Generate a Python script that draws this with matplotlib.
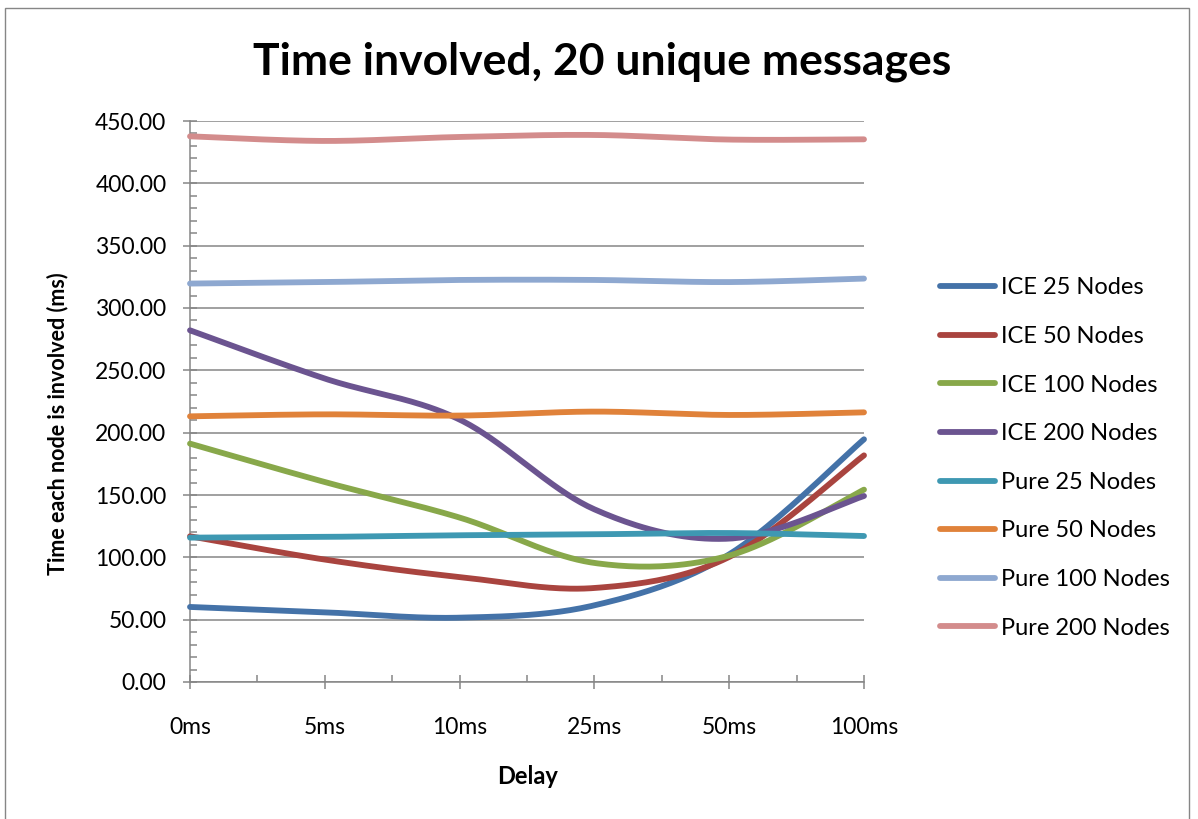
import numpy as np
import matplotlib
matplotlib.use("Agg")
import matplotlib.pyplot as plt
from matplotlib.patches import Rectangle
from matplotlib.ticker import MultipleLocator, FormatStrFormatter

plt.rcParams['font.family'] = ['Lato', 'DejaVu Sans']

delays = ["0ms", "5ms", "10ms", "25ms", "50ms", "100ms"]

ice_25 = [60.2, 55.9, 51.6, 61.5, 102.4, 194.7]
ice_50 = [116.9, 98.2, 84.2, 75.4, 100.3, 181.8]
ice_100 = [191.2, 160.4, 131.9, 95.5, 101.4, 154.3]
ice_200 = [282.1, 243.4, 210.5, 138.5, 115.0, 149.2]
pure_25 = [115.8, 116.4, 117.7, 118.5, 119.5, 117.1]
pure_50 = [213.1, 214.7, 213.7, 216.9, 214.2, 216.3]
pure_100 = [319.6, 320.8, 322.5, 322.5, 320.8, 323.6]
pure_200 = [437.7, 434.0, 437.2, 438.8, 435.1, 435.3]

series = [
    ("ICE 25 Nodes", ice_25, "#4472A8"),
    ("ICE 50 Nodes", ice_50, "#A9443F"),
    ("ICE 100 Nodes", ice_100, "#88A84A"),
    ("ICE 200 Nodes", ice_200, "#6B5490"),
    ("Pure 25 Nodes", pure_25, "#3E98B2"),
    ("Pure 50 Nodes", pure_50, "#E0823A"),
    ("Pure 100 Nodes", pure_100, "#8EA8D0"),
    ("Pure 200 Nodes", pure_200, "#D38C8C"),
]


def smooth(xs, ys, n=40):
    """Cubic Bezier smoothing through every point (spreadsheet-style)."""
    xs = np.asarray(xs, float)
    ys = np.asarray(ys, float)
    m = len(xs)
    px = np.concatenate([[xs[0]], xs, [xs[-1]]])
    py = np.concatenate([[ys[0]], ys, [ys[-1]]])
    out_x, out_y = [], []
    t = np.linspace(0, 1, n)
    for i in range(m - 1):
        p0 = np.array([px[i + 1], py[i + 1]])
        p3 = np.array([px[i + 2], py[i + 2]])
        p1 = p0 + (np.array([px[i + 2], py[i + 2]]) - np.array([px[i], py[i]])) / 6
        p2 = p3 - (np.array([px[i + 3], py[i + 3]]) - np.array([px[i + 1], py[i + 1]])) / 6
        b = ((1 - t) ** 3)[:, None] * p0 + (3 * (1 - t) ** 2 * t)[:, None] * p1 \
            + (3 * (1 - t) * t ** 2)[:, None] * p2 + (t ** 3)[:, None] * p3
        if i > 0:
            b = b[1:]
        out_x.append(b[:, 0])
        out_y.append(b[:, 1])
    return np.concatenate(out_x), np.concatenate(out_y)


W, H = 1198, 819
fig = plt.figure(figsize=(W / 100, H / 100), dpi=100)
fig.patch.set_facecolor("white")

# outer chart frame
fig.patches.append(Rectangle((5 / W, -0.02), (1189 - 5) / W, 1.02 - 8 / H,
                             transform=fig.transFigure, fill=False,
                             edgecolor="#868686", linewidth=1.0))

ax = fig.add_axes([190 / W, 1 - 682 / H, (864 - 190) / W, (682 - 121) / H])

grey = "#868686"
x = np.arange(len(delays))
for name, vals, color in series:
    sx, sy = smooth(x, vals)
    ax.plot(sx, sy, color=color, lw=4.2, solid_capstyle="round", label=name,
            clip_on=False, zorder=3)

ax.set_xlim(0, len(delays) - 1)
ax.set_ylim(0, 450)
ax.yaxis.set_major_locator(MultipleLocator(50))
ax.yaxis.set_minor_locator(MultipleLocator(10))
ax.yaxis.set_major_formatter(FormatStrFormatter("%.2f"))
ax.set_xticks(x)
ax.set_xticklabels(delays)
ax.set_xticks(np.arange(0.5, len(delays) - 1, 1.0), minor=True)

ax.grid(axis="y", which="major", color=grey, lw=1.1, zorder=1)
for s in ("top", "right"):
    ax.spines[s].set_visible(False)
for s in ("left", "bottom"):
    ax.spines[s].set_color(grey)
    ax.spines[s].set_linewidth(1.1)

ax.tick_params(axis="both", which="major", direction="inout", length=10,
               width=1.1, color=grey, labelsize=16.5, labelcolor="black")
ax.tick_params(axis="both", which="minor", direction="in", length=5,
               width=1.1, color=grey)
ax.tick_params(axis="y", which="major", pad=12)
ax.tick_params(axis="x", which="major", pad=20)

fig.text(602 / W, 1 - 62 / H, "Time involved, 20 unique messages",
         ha="center", va="center", fontsize=32, fontweight="bold")
fig.text(528 / W, 1 - 777 / H, "Delay", ha="center", va="center",
         fontsize=17, fontweight="bold")
fig.text(58 / W, 1 - 424 / H, "Time each node is involved (ms)", ha="center",
         va="center", rotation=90, fontsize=15.5, fontweight="bold")

ax.legend(loc="center left", bbox_to_anchor=(940 / W, 1 - 458 / H),
          bbox_transform=fig.transFigure, frameon=False, fontsize=17,
          handlelength=2.35, handletextpad=0.25, labelspacing=1.17,
          borderpad=0, borderaxespad=0)

fig.savefig("out.png", dpi=100, facecolor="white")
